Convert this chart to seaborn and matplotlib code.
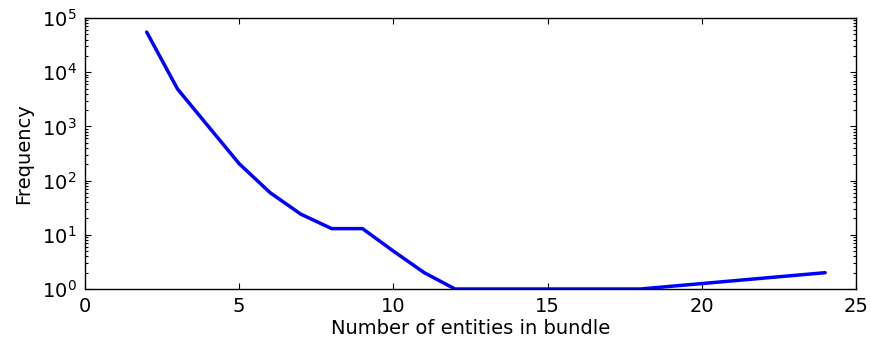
import matplotlib
matplotlib.use("Agg")
import matplotlib.pyplot as plt
import seaborn as sns
import pandas as pd

entities = [2, 3, 4, 5, 6, 7, 8, 9, 10, 11, 12, 13, 14, 15, 16, 17, 18, 24]
frequency = [55000, 4900, 1000, 205, 60, 24, 13, 13, 5, 2, 1, 1, 1, 1, 1, 1, 1, 2]

df = pd.DataFrame({"entities": entities, "frequency": frequency})

sns.set_style("ticks")
plt.rcParams['font.family'] = ['DejaVu Sans']
plt.rcParams['text.color'] = 'black'
plt.rcParams['axes.labelcolor'] = 'black'

fig = plt.figure(figsize=(8.71, 3.43), dpi=100)
ax = fig.add_axes([85/871, 1 - 289/343, (856-85)/871, (289-18)/343])
sns.lineplot(data=df, x="entities", y="frequency", ax=ax, color="#0000ff", linewidth=2.5)
ax.set_yscale("log")
ax.set_xlim(0, 25)
ax.set_ylim(1, 1e5)
ax.set_xticks([0, 5, 10, 15, 20, 25])
ax.set_xlabel("Number of entities in bundle", fontsize=14, labelpad=2)
ax.set_ylabel("Frequency", fontsize=14, labelpad=6)
ax.tick_params(which="both", direction="in", top=True, right=True, labelsize=14, width=0.8, colors="black")
ax.tick_params(which="major", length=4, pad=6)
ax.tick_params(which="minor", length=2)
for s in ax.spines.values():
    s.set_linewidth(1.0)
    s.set_color("black")
fig.savefig("out.png", dpi=100)
